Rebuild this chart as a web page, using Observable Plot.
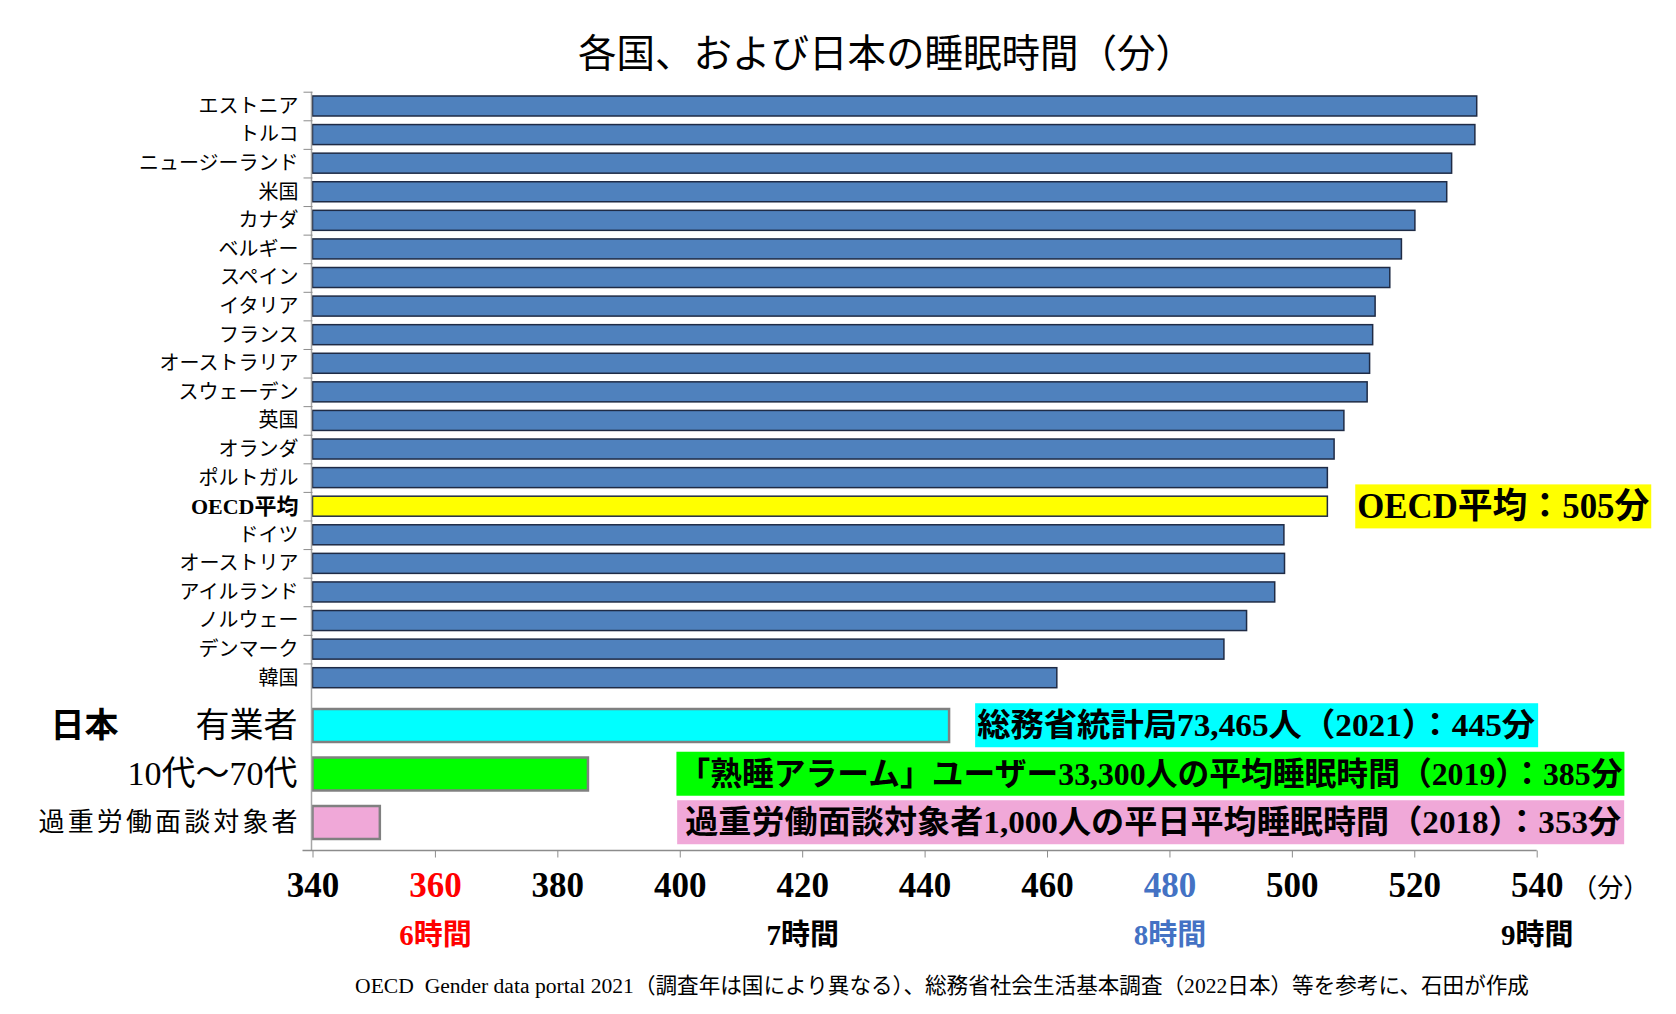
<!DOCTYPE html>
<html><head><meta charset="utf-8">
<script src="https://cdn.jsdelivr.net/npm/d3@7"></script>
<script src="https://cdn.jsdelivr.net/npm/@observablehq/plot@0.6"></script>
<style>
html,body{margin:0;padding:0;background:#fff;overflow:hidden;}
#wrap{position:relative;width:1676px;height:1014px;}
#title{position:relative;height:80px;}
#title span{position:absolute;left:886px;top:50px;transform:translate(-50%,-50%);font:400 38.5px "Noto Sans CJK JP";white-space:nowrap;color:#000;}
svg{display:block;}
#caption{position:relative;height:59px;}
#caption span{position:absolute;left:942px;top:28px;transform:translate(-50%,-50%);font:21.6px "Liberation Serif","Noto Sans CJK JP";white-space:pre;color:#000;}
</style></head>
<body>
<div id="wrap">
  <div id="title"><span></span></div>
  <div id="top"></div>
  <div id="bottom"></div>
  <div id="caption"><span></span></div>
</div>
<script>
// ---------- data ----------
const titleText = "各国、および日本の睡眠時間（分）";
const captionText = "OECD  Gender data portal 2021（調査年は国により異なる）、総務省社会生活基本調査（2022日本）等を参考に、石田が作成";
const countries = ["エストニア","トルコ","ニュージーランド","米国","カナダ","ベルギー","スペイン","イタリア","フランス","オーストラリア","スウェーデン","英国","オランダ","ポルトガル","OECD平均","ドイツ","オーストリア","アイルランド","ノルウェー","デンマーク","韓国"];
const minutes = [530.2,529.9,526.1,525.3,520.1,517.9,516.0,513.6,513.2,512.7,512.3,508.5,506.9,505.8,505.8,498.7,498.8,497.2,492.6,488.9,461.6];
const oecdLabel = "OECD平均";
const oecdNote = "OECD平均：505分";
const japanLabel = "日本";
const japanGroups = ["有業者","10代～70代","過重労働面談対象者"];
const japanMinutes = [444,385,351];
const japanNotes = ["総務省統計局73,465人（2021）：445分","「熟睡アラーム」ユーザー33,300人の平均睡眠時間（2019）：385分","過重労働面談対象者1,000人の平日平均睡眠時間（2018）：353分"];
const xDomain = [340,540];
const xTicks = [340,360,380,400,420,440,460,480,500,520,540];
const hourTicks = [360,420,480,540];
const hourLabels = ["6時間","7時間","8時間","9時間"];
const unitLabel = "（分）";

// ---------- styles / layout ----------
const RED = "#ff0000", BLUE = "#4472c4", BLACK = "#000000";
const barBlue = "#4f81bd", barYellow = "#ffff00";
const japanFill = {"有業者":"#00ffff","10代～70代":"#00ff00","過重労働面談対象者":"#f0a8d8"};
const noteLayout = {"有業者":{x:448.5,w:558,pl:2,pr:3},"10代～70代":{x:399.7,w:944,pl:2,pr:2},"過重労働面談対象者":{x:400.8,w:936,pl:8,pr:3}};
const oecdLayout = {x:510.6,w:292,pl:2,pr:2};
const W = 1676, ML = 312.5, MR = 139.3;
const AX = "#8c8c8c";

document.querySelector("#title span").textContent = titleText;
document.querySelector("#caption span").textContent = captionText;

// ---------- top plot: countries ----------
const topH = 612, topMT = 11.7, topMB = 0;
const step = (topH - topMT - topMB) / countries.length;
const rowsTop = countries.map((c, i) => ({name: c, v: minutes[i]}));

const topPlot = Plot.plot({
  width: W, height: topH,
  marginLeft: ML, marginRight: MR, marginTop: topMT, marginBottom: topMB,
  x: {domain: xDomain, axis: null},
  y: {domain: countries, paddingInner: 0.3, paddingOuter: 0.15, round: false, axis: null},
  color: {type: "identity"},
  marks: [
    Plot.barX(rowsTop, {y: "name", x1: xDomain[0], x2: "v",
      fill: d => d.name === oecdLabel ? barYellow : barBlue, stroke: "#1f2b45", strokeWidth: 1.5}),
    Plot.ruleX([xDomain[0]], {stroke: "#a6a6a6", strokeWidth: 1.5, dx: -1.5}),
    Plot.axisY({tickSize: 9, tickFormat: () => "", label: null, dy: -step / 2, stroke: AX}),
    Plot.axisY({ticks: [countries[countries.length - 1]], tickSize: 9, tickFormat: () => "", label: null, dy: step / 2, stroke: AX}),
    Plot.text(rowsTop.filter(d => d.name !== oecdLabel), {y: "name", x: xDomain[0], text: "name",
      textAnchor: "end", dx: -14.5, fontSize: 20, fontFamily: "Noto Sans CJK JP", fill: BLACK}),
    Plot.text(rowsTop.filter(d => d.name === oecdLabel), {y: "name", x: xDomain[0], text: "name",
      textAnchor: "end", dx: -14.5, fontSize: 22, fontWeight: "bold", fontFamily: "Liberation Serif, Noto Sans CJK JP", fill: BLACK}),
    Plot.text([{name: oecdLabel, note: oecdNote}], {y: "name", x: oecdLayout.x, text: "note",
      textAnchor: "start", fontSize: 35, fontWeight: "bold", fontFamily: "Liberation Serif, Noto Sans CJK JP", fill: BLACK})
  ]
});
document.getElementById("top").appendChild(topPlot);

// ---------- bottom plot: Japan ----------
const botH = 263, botMB = 104.5;
const rowsJ = japanGroups.map((g, i) => ({name: g, v: japanMinutes[i], note: japanNotes[i]}));

const botPlot = Plot.plot({
  width: W, height: botH,
  marginLeft: ML, marginRight: MR, marginTop: 0, marginBottom: botMB,
  x: {domain: xDomain, axis: null},
  y: {domain: japanGroups, paddingInner: 0.32, paddingOuter: 0.16, insetTop: 9.25, insetBottom: 3.75, round: false, axis: null},
  color: {type: "identity"},
  marks: [
    Plot.barX(rowsJ, {y: "name", x1: xDomain[0], x2: "v", fill: d => japanFill[d.name], stroke: "#808080", strokeWidth: 2.5}),
    Plot.ruleX([xDomain[0]], {stroke: "#a6a6a6", strokeWidth: 1.5, dx: -1.5}),
    Plot.axisX({ticks: xTicks, tickSize: 7, tickFormat: () => "", label: null, stroke: AX}),
    // tick labels
    Plot.text(xTicks, {x: d => d, text: d => String(d), frameAnchor: "bottom", lineAnchor: "middle", dy: 35,
      fontSize: 35, fontWeight: "bold", fontFamily: "Liberation Serif",
      fill: d => d === 360 ? RED : d === 480 ? BLUE : BLACK}),
    Plot.text([xTicks[xTicks.length - 1]], {x: d => d, text: () => unitLabel, frameAnchor: "bottom", lineAnchor: "middle", dy: 38, dx: 73,
      fontSize: 26, fontFamily: "Noto Sans CJK JP", fill: BLACK}),
    // hour labels
    Plot.text(hourTicks, {x: d => d, text: (d, i) => hourLabels[i], frameAnchor: "bottom", lineAnchor: "middle", dy: 85,
      fontSize: 29, fontWeight: "bold", fontFamily: "Liberation Serif, Noto Sans CJK JP",
      fill: d => d === 360 ? RED : d === 480 ? BLUE : BLACK}),
    // row labels
    Plot.text([rowsJ[0]], {y: "name", x: xDomain[0], text: "name", textAnchor: "end", dx: -15.5,
      fontSize: 34, fontFamily: "Noto Sans CJK JP", fill: BLACK}),
    Plot.text([rowsJ[1]], {y: "name", x: xDomain[0], text: "name", textAnchor: "end", dx: -15.5,
      fontSize: 34, fontFamily: "Liberation Serif, Noto Sans CJK JP", fill: BLACK}),
    Plot.text([rowsJ[2]], {y: "name", x: xDomain[0], text: "name", textAnchor: "end", dx: -15.5,
      fontSize: 26, fontFamily: "Noto Sans CJK JP", fill: BLACK}),
    Plot.text([{name: japanGroups[0], label: japanLabel}], {y: "name", x: xDomain[0], text: "label", textAnchor: "end", dx: -194.5,
      fontSize: 34, fontWeight: "bold", fontFamily: "Noto Sans CJK JP", fill: BLACK}),
    // notes
    Plot.text(rowsJ, {y: "name", x: d => noteLayout[d.name].x, text: "note", textAnchor: "start",
      fontSize: 32, fontWeight: "bold", fontFamily: "Liberation Serif, Noto Sans CJK JP", fill: BLACK})
  ]
});
document.getElementById("bottom").appendChild(botPlot);

// ---------- decorations ----------
const NS = "http://www.w3.org/2000/svg";
function findText(svg, str) {
  return Array.from(svg.querySelectorAll("text")).find(t => t.textContent === str);
}
function boxNote(svg, str, L, color) {
  const t = findText(svg, str);
  if (!t) return;
  t.setAttribute("textLength", L.w);
  t.setAttribute("lengthAdjust", "spacingAndGlyphs");
  const b = t.getBBox();
  const cy = b.y + b.height / 2;
  const r = document.createElementNS(NS, "rect");
  r.setAttribute("x", b.x - L.pl);
  r.setAttribute("width", b.width + L.pl + L.pr);
  r.setAttribute("y", cy - 22);
  r.setAttribute("height", 44);
  r.setAttribute("fill", color);
  if (t.getAttribute("transform")) r.setAttribute("transform", t.getAttribute("transform"));
  t.parentNode.insertBefore(r, t.parentNode.firstChild);
}
boxNote(topPlot, oecdNote, oecdLayout, barYellow);
japanGroups.forEach((g, i) => boxNote(botPlot, japanNotes[i], noteLayout[g], japanFill[g]));

// letter spacing for overwork label
const ow = findText(botPlot, japanGroups[2]);
if (ow) { ow.setAttribute("textLength", 259); ow.setAttribute("lengthAdjust", "spacing"); }

// x axis baseline
const xs = botPlot.scale("x");
d3.select(botPlot).append("line")
  .attr("x1", xs.apply(xDomain[0]) - 10).attr("x2", xs.apply(xDomain[1]))
  .attr("y1", botH - botMB).attr("y2", botH - botMB)
  .attr("stroke", AX).attr("stroke-width", 1.5);
</script>
</body></html>
